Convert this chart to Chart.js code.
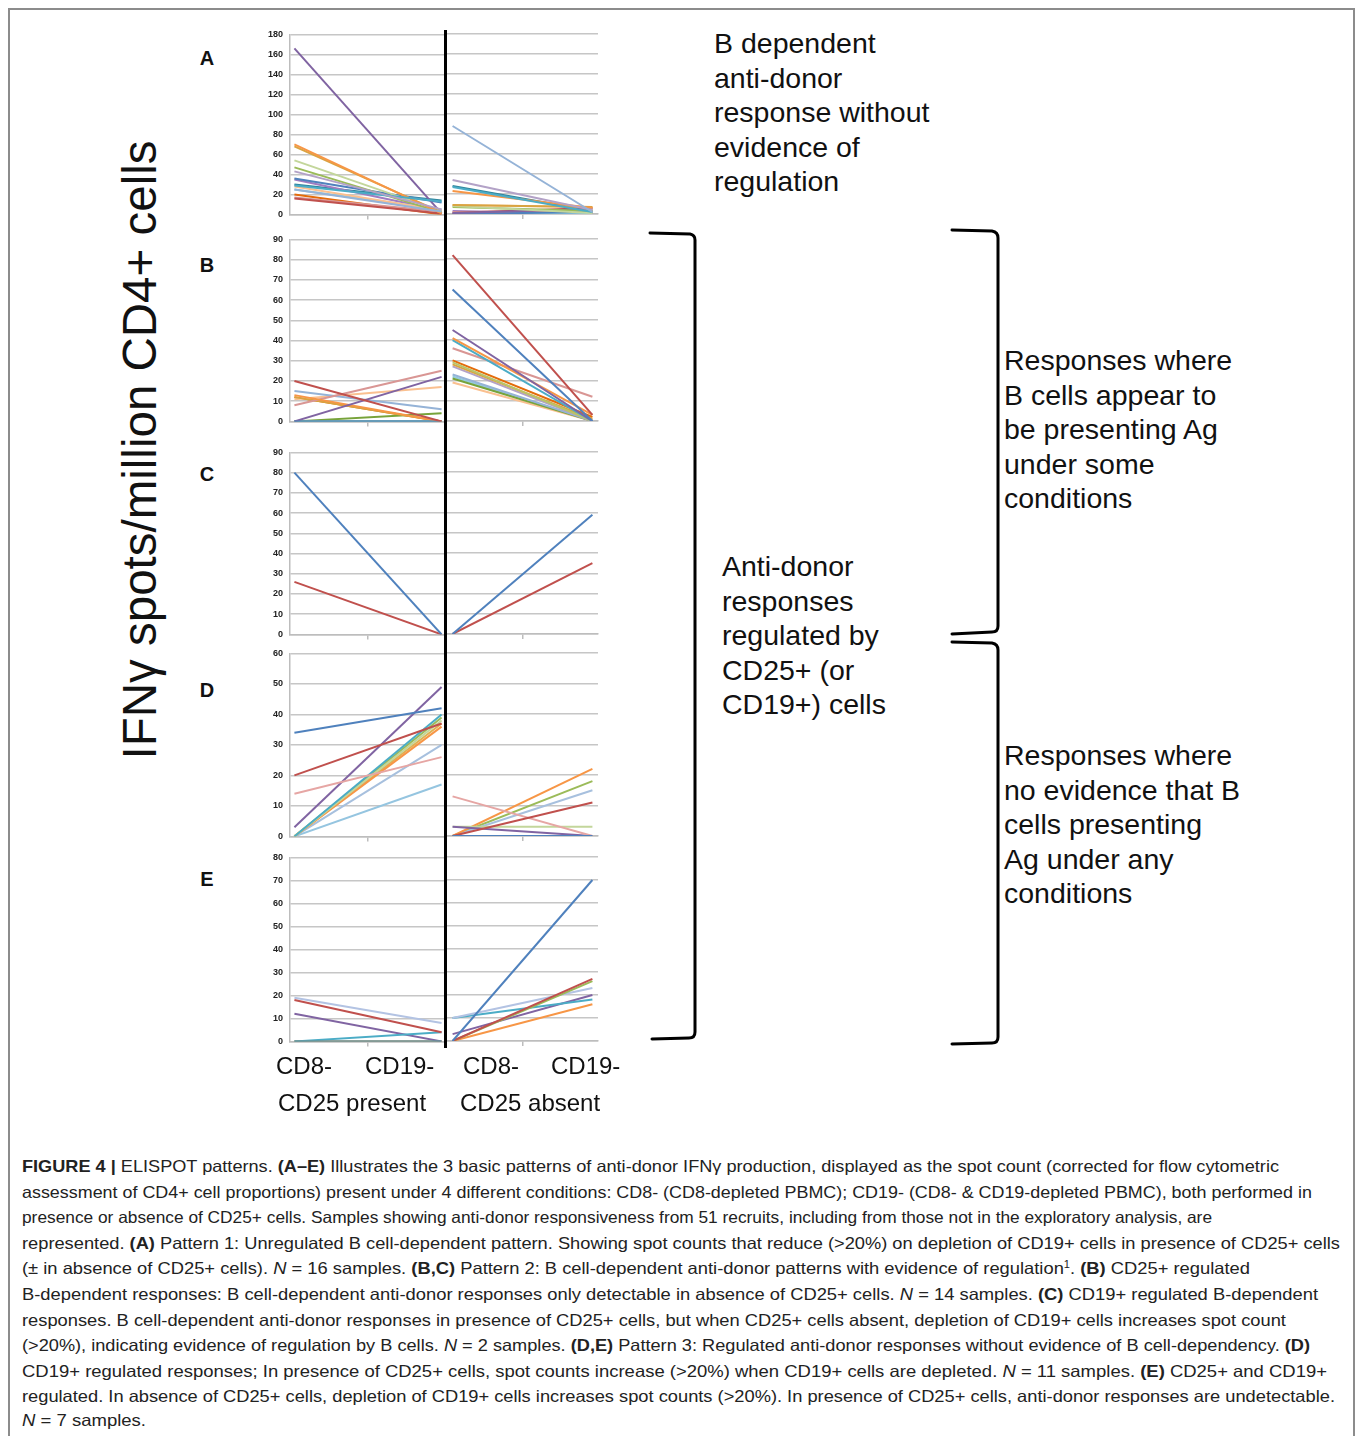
<!DOCTYPE html>
<html>
<head>
<meta charset="utf-8">
<script src="https://cdn.jsdelivr.net/npm/chart.js@4.4.1/dist/chart.umd.min.js"></script>
<style>
  body { margin: 0; width: 1360px; height: 1436px; background: #fff; position: relative; overflow: hidden;
         font-family: "Liberation Sans", Arial, sans-serif; color: #111; }
  .frame { position: absolute; left: 8px; top: 8px; width: 1347px; height: 1460px; border: 2px solid #8c8c8c; box-sizing: border-box; }
  .box { position: absolute; }
  .letter { position: absolute; width: 30px; text-align: center; font-weight: bold; font-size: 20px; line-height: 24px; }
  .note { position: absolute; font-size: 28.5px; line-height: 34.6px; white-space: nowrap; }
  .xl { position: absolute; font-size: 24px; line-height: 28px; white-space: nowrap; }
  .cap { position: absolute; left: 22px; font-size: 16.5px; line-height: 22px; color: #222; white-space: nowrap; transform-origin: 0 50%; }
  .cap sup { font-size: 10px; line-height: 0; vertical-align: 6px; }
  .ytitle { position: absolute; left: -210px; top: 425px; width: 700px; height: 50px; line-height: 50px; text-align: center;
            font-size: 47.5px; transform: rotate(-90deg); white-space: nowrap; }
  .vline { position: absolute; left: 444px; top: 30px; width: 3px; height: 1018px; background: #000; z-index: 5; }
</style>
</head>
<body>
<div class="frame"></div>

<div class="ytitle">IFNγ spots/million CD4+ cells</div>

<div class="letter" style="left:192px;top:46px">A</div>
<div class="letter" style="left:192px;top:253px">B</div>
<div class="letter" style="left:192px;top:462px">C</div>
<div class="letter" style="left:192px;top:678px">D</div>
<div class="letter" style="left:192px;top:867px">E</div>

<div id="charts"></div>
<div class="vline"></div>

<div class="xl" style="left:276px;top:1052px">CD8-</div>
<div class="xl" style="left:365px;top:1052px">CD19-</div>
<div class="xl" style="left:463px;top:1052px">CD8-</div>
<div class="xl" style="left:551px;top:1052px">CD19-</div>
<div class="xl" style="left:278px;top:1089px">CD25 present</div>
<div class="xl" style="left:460px;top:1089px">CD25 absent</div>

<div class="note" style="left:714px;top:26px">B dependent<br>anti-donor<br>response without<br>evidence of<br>regulation</div>
<div class="note" style="left:722px;top:549px">Anti-donor<br>responses<br>regulated by<br>CD25+ (or<br>CD19+) cells</div>
<div class="note" style="left:1004px;top:343px">Responses where<br>B cells appear to<br>be presenting Ag<br>under some<br>conditions</div>
<div class="note" style="left:1004px;top:738px">Responses where<br>no evidence that B<br>cells presenting<br>Ag under any<br>conditions</div>

<svg class="box" style="left:0;top:0" width="1360" height="1140">
  <g fill="none" stroke="#000" stroke-width="3" stroke-linecap="round">
    <path d="M650,233 L690,234 Q695,235 695,240 L695,1032 Q695,1038 689,1038 L652,1039"/>
    <path d="M952,230 L992,231 Q998,232 998,238 L998,626 Q998,632 992,632 L952,634"/>
    <path d="M952,642 L992,643 Q998,644 998,650 L998,1037 Q998,1043 992,1043 L952,1044"/>
  </g>
</svg>

<div class="cap" data-r="1279" style="top:1155px"><b>FIGURE 4 |</b> ELISPOT patterns. <b>(A–E)</b> Illustrates the 3 basic patterns of anti-donor IFNγ production, displayed as the spot count (corrected for flow cytometric</div>
<div class="cap" data-r="1312" style="top:1181px">assessment of CD4+ cell proportions) present under 4 different conditions: CD8- (CD8-depleted PBMC); CD19- (CD8- &amp; CD19-depleted PBMC), both performed in</div>
<div class="cap" data-r="1212" style="top:1206px">presence or absence of CD25+ cells. Samples showing anti-donor responsiveness from 51 recruits, including from those not in the exploratory analysis, are</div>
<div class="cap" data-r="1340" style="top:1232px">represented. <b>(A)</b> Pattern 1: Unregulated B cell-dependent pattern. Showing spot counts that reduce (&gt;20%) on depletion of CD19+ cells in presence of CD25+ cells</div>
<div class="cap" data-r="1250" style="top:1257px">(± in absence of CD25+ cells). <i>N</i> = 16 samples. <b>(B,C)</b> Pattern 2: B cell-dependent anti-donor patterns with evidence of regulation<sup>1</sup>. <b>(B)</b> CD25+ regulated</div>
<div class="cap" data-r="1318" style="top:1283px">B-dependent responses: B cell-dependent anti-donor responses only detectable in absence of CD25+ cells. <i>N</i> = 14 samples. <b>(C)</b> CD19+ regulated B-dependent</div>
<div class="cap" data-r="1286" style="top:1309px">responses. B cell-dependent anti-donor responses in presence of CD25+ cells, but when CD25+ cells absent, depletion of CD19+ cells increases spot count</div>
<div class="cap" data-r="1310" style="top:1334px">(&gt;20%), indicating evidence of regulation by B cells. <i>N</i> = 2 samples. <b>(D,E)</b> Pattern 3: Regulated anti-donor responses without evidence of B cell-dependency. <b>(D)</b></div>
<div class="cap" data-r="1327" style="top:1360px">CD19+ regulated responses; In presence of CD25+ cells, spot counts increase (&gt;20%) when CD19+ cells are depleted. <i>N</i> = 11 samples. <b>(E)</b> CD25+ and CD19+</div>
<div class="cap" data-r="1335" style="top:1385px">regulated. In absence of CD25+ cells, depletion of CD19+ cells increases spot counts (&gt;20%). In presence of CD25+ cells, anti-donor responses are undetectable.</div>
<div class="cap" data-r="146" style="top:1409px"><i>N</i> = 7 samples.</div>

<script>
// each sample: [CD8-, CD19-]
const conditions = ['CD8-', 'CD19-'];

const aPresent = [[25,3],[43,5],[29,13],[70,1],[68,2],[54,3],[47,2],[166,1],[36,12],[16,1],[17,3],[28,4],[25,5],[35,4],[30,14],[20,0]];
const aAbsent  = [[88,2],[34,4],[27,2],[23,6],[9,7],[8,1],[7,3],[1,5],[0,2],[1,6],[2,3],[9,7],[0,0],[3,0],[28,3],[0,1]];

const bPresent = [[20,0],[0,0],[0,22],[13,0],[0,0],[8,25],[0,0],[12,0],[0,0],[15,6],[0,4],[11,17],[12,0],[0,0]];
const bAbsent  = [[82,3],[65,0],[45,0],[41,3],[40,0],[36,12],[29,0],[28,1],[27,0],[23,0],[21,0],[19,0],[30,2],[22,0]];

const cPresent = [[80,0],[26,0]];
const cAbsent  = [[0,59],[0,35]];

const dPresent = [[34,42],[20,37],[14,26],[3,49],[0,40],[0,38],[0,36],[0,37],[0,30],[0,17],[0,39]];
const dAbsent  = [[0,0],[0,11],[13,0],[3,0],[0,0],[3,3],[0,22],[0,0],[0,15],[0,0],[0,18]];

const ePresent = [[0,0],[18,4],[0,0],[19,8],[0,4],[12,0],[0,0]];
const eAbsent  = [[0,70],[0,27],[0,26],[10,23],[10,18],[3,20],[0,16]];

const axisMax  = [180, 90, 90, 60, 80];
const axisStep = [20, 10, 10, 10, 10];

// line colours
const aColors = ['#95B3D7','#B3A2C7','#4BACC6','#F79646','#D9A441','#C3D69B','#9BBB59','#8064A2','#4F81BD','#C0504D','#D99694','#FAC090','#93CDDD','#A07CC0','#31859C','#E46C0A'];
const bColors = ['#C0504D','#4F81BD','#8064A2','#F79646','#4BACC6','#D99694','#B9C46A','#D9A441','#B3A2C7','#95B3D7','#77A33A','#FAC090','#E46C0A','#93CDDD'];
const cColors = ['#4F81BD','#C0504D'];
const dColors = ['#4F81BD','#C0504D','#E6A6A4','#8064A2','#4BACC6','#C3D69B','#F79646','#E0B050','#A7C0DE','#95C5E0','#9BBB59'];
const eColors = ['#4F81BD','#C0504D','#9BBB59','#B3C3E3','#4BACC6','#8064A2','#F79646'];

const panels = [
  { present: aPresent, absent: aAbsent, colors: aColors, top: 34,  zero: 214 },
  { present: bPresent, absent: bAbsent, colors: bColors, top: 239, zero: 421 },
  { present: cPresent, absent: cAbsent, colors: cColors, top: 452, zero: 634 },
  { present: dPresent, absent: dAbsent, colors: dColors, top: 653, zero: 836 },
  { present: ePresent, absent: eAbsent, colors: eColors, top: 857, zero: 1041 }
];

const gridCol = '#c6c6c6';

function makeChart(x0, x1, p, idx, rows, showY, xMin, xMax) {
  const holder = document.createElement('div');
  holder.className = 'box';
  holder.style.left = (x0 - 40) + 'px';
  holder.style.top = (p.top - 10) + 'px';
  holder.style.width = (x1 - x0 + 44) + 'px';
  holder.style.height = (p.zero - p.top + 20) + 'px';
  const cv = document.createElement('canvas');
  holder.appendChild(cv);
  document.getElementById('charts').appendChild(holder);

  const datasets = rows.map((r, i) => ({
    data: conditions.map((c, k) => ({ x: k, y: r[k] })),
    borderColor: p.colors[i],
    borderWidth: 2,
    pointRadius: 0,
    fill: false,
    tension: 0
  }));

  const chart = new Chart(cv, {
    type: 'line',
    data: { datasets: datasets },
    options: {
      responsive: true,
      maintainAspectRatio: false,
      animation: false,
      events: [],
      layout: { padding: { top: 6, right: 2, bottom: 0, left: 0 } },
      plugins: { legend: { display: false }, tooltip: { enabled: false } },
      scales: {
        x: {
          type: 'linear', min: xMin, max: xMax,
          ticks: { display: false },
          grid: { drawOnChartArea: false, color: '#bdbdbd', lineWidth: 1.5, tickLength: 5 },
          border: { display: true, color: '#bdbdbd', width: 1.5 },
          afterBuildTicks: s => { s.ticks = [{ value: 0.5 }]; },
          afterFit: s => { s.height = 6; }
        },
        y: {
          min: 0, max: axisMax[idx],
          ticks: { stepSize: axisStep[idx], display: showY, color: '#222', padding: 7,
                   font: { family: 'Liberation Sans', size: 9, weight: 'bold' } },
          grid: { color: gridCol, lineWidth: 1.5, drawTicks: false },
          border: { display: showY, color: '#bdbdbd', width: 1.5 },
          afterFit: s => { s.width = showY ? 35 : 0; }
        }
      }
    }
  });

  // move the holder so the plot area sits where the figure has it
  const ca = chart.chartArea;
  const W = holder.clientWidth, H = holder.clientHeight;
  const offL = ca.left, offR = W - ca.right, offT = ca.top, offB = H - ca.bottom;
  holder.style.left = (x0 - offL) + 'px';
  holder.style.width = (x1 - x0 + offL + offR) + 'px';
  holder.style.top = (p.top - offT) + 'px';
  holder.style.height = (p.zero - p.top + offT + offB) + 'px';
  chart.resize();
}

panels.forEach((p, i) => {
  makeChart(290, 446, p, i, p.present, true, -0.03, 1.03);
  makeChart(446, 598, p, i, p.absent, false, -0.04, 1.04);
});

// fit each caption line to its width in the figure
document.querySelectorAll('.cap').forEach(el => {
  const target = +el.dataset.r - 22;
  const w = el.getBoundingClientRect().width;
  el.style.transform = 'scaleX(' + (target / w).toFixed(4) + ')';
});
</script>
</body>
</html>
